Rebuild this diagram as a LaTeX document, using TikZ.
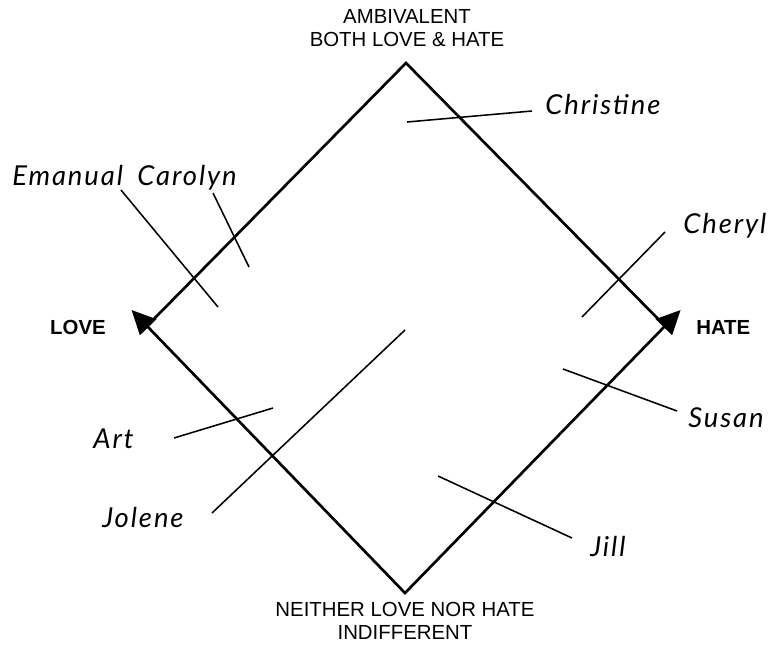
\documentclass[tikz,border=0pt]{standalone}
\usepackage{fontspec}
\setmainfont{Liberation Sans}
\newfontfamily\handfont{Lato}[LetterSpace=7]
\usetikzlibrary{arrows.meta,calc}

\begin{document}
\begin{tikzpicture}[x=0.025cm,y=-0.025cm,
    >={Triangle[length=0.6cm,width=0.56cm]},
    edge/.style={line width=1.9pt,black},
    leader/.style={line width=1.1pt,black},
    pole/.style={font=\fontsize{14.5}{16}\selectfont,align=center,inner sep=0pt},
    side/.style={font=\fontsize{14.5}{16}\selectfont\bfseries,inner sep=0pt},
    person/.style={font=\handfont\itshape\fontsize{19.5}{22}\selectfont,anchor=base west,inner sep=0pt}]
\fill[white] (0,0) rectangle (780,645);
\useasboundingbox (0,0) rectangle (780,645);
% ===== diamond corners =====
\coordinate (top) at (406,63);
\coordinate (lft) at (147,326);
\coordinate (rgt) at (665,326);
\coordinate (bot) at (405,593);
\coordinate (ltip) at ($(bot)!1.06!(lft)$);
\coordinate (rtip) at ($(bot)!1.06!(rgt)$);
\draw[edge] (lft) -- (top) -- (rgt);
\draw[edge,<->] (ltip) -- (bot) -- (rtip);
% ===== pole labels =====
\node[pole] (ambi) at (407,28) {AMBIVALENT\\BOTH LOVE \& HATE};
\node[pole] (indiff) at (405,621) {NEITHER LOVE NOR HATE\\INDIFFERENT};
\node[side,anchor=east] (love) at (106,327) {LOVE};
\node[side,anchor=west] (hate) at (696,327) {HATE};
% ===== names =====
\node[person] (christine) at (545,114) {Christine};
\node[person] (emanual)   at (12,185)  {Emanual};
\node[person] (carolyn)   at (137,185) {Carolyn};
\node[person] (cheryl)    at (683,233) {Cheryl};
\node[person] (susan)     at (688,427) {Susan};
\node[person] (art)       at (93,448)  {Art};
\node[person] (jolene)    at (102,527) {Jolene};
\node[person] (jill)      at (590,556) {Jill};
% ===== leader lines =====
\coordinate (chr-a) at (407,122); \coordinate (chr-b) at (532,111);
\coordinate (ema-a) at (121,190); \coordinate (ema-b) at (218,307);
\coordinate (car-a) at (213,193); \coordinate (car-b) at (249,267);
\coordinate (che-a) at (582,317); \coordinate (che-b) at (665,232);
\coordinate (sus-a) at (563,369); \coordinate (sus-b) at (677,411);
\coordinate (art-a) at (174,438); \coordinate (art-b) at (273,408);
\coordinate (jol-a) at (212,513); \coordinate (jol-b) at (405,330);
\coordinate (jil-a) at (438,476); \coordinate (jil-b) at (572,538);
\draw[leader] (chr-a) -- (chr-b);
\draw[leader] (ema-a) -- (ema-b);
\draw[leader] (car-a) -- (car-b);
\draw[leader] (che-a) -- (che-b);
\draw[leader] (sus-a) -- (sus-b);
\draw[leader] (art-a) -- (art-b);
\draw[leader] (jol-a) -- (jol-b);
\draw[leader] (jil-a) -- (jil-b);
\end{tikzpicture}
\end{document}
